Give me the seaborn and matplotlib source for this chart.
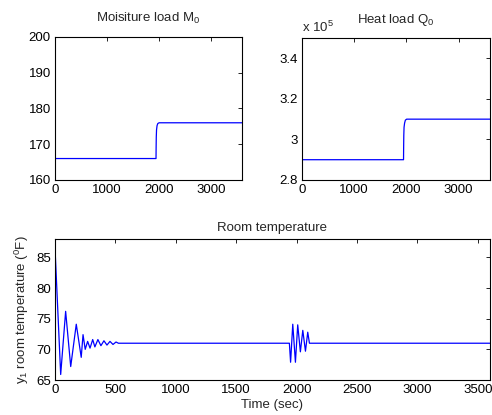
import matplotlib
matplotlib.use("Agg")
import matplotlib.pyplot as plt
import seaborn as sns
import pandas as pd
from matplotlib.ticker import FuncFormatter

sns.set_style("white")
plt.rcParams['font.family'] = ['Liberation Sans', 'DejaVu Sans']
plt.rcParams['mathtext.fontset'] = 'custom'
plt.rcParams['mathtext.rm'] = 'Liberation Sans'
plt.rcParams['mathtext.it'] = 'Liberation Sans'

FS = 9.5

# moisture load M0
m_time = [0, 1945, 1947, 1950, 1955, 1965, 1980, 2005, 3600]
m_load = [166, 166, 169, 172, 174, 175.2, 175.8, 176, 176]

# heat load Q0
q_time = [0, 1945, 1947, 1950, 1955, 1965, 1980, 2005, 3600]
q_load = [2.9e5, 2.9e5, 2.96e5, 3.02e5, 3.06e5, 3.08e5, 3.095e5, 3.1e5, 3.1e5]

# room temperature y1: extrema
t_time = [0, 47, 88, 130, 176, 217, 232, 250, 270, 290, 312, 330, 355, 380,
          405, 430, 455, 480, 505, 525,
          1940, 1950, 1968, 1990, 2009, 2031, 2051, 2073, 2092, 2106, 3600]
t_temp = [86.5, 65.9, 76.2, 67.2, 74.1, 68.7, 72.4, 70.0, 71.3, 70.2, 71.6, 70.4, 71.6, 70.6,
          71.4, 70.7, 71.3, 70.8, 71.2, 71.0,
          71.0, 67.9, 74.1, 67.9, 74.0, 69.6, 73.1, 69.7, 72.8, 71.0, 71.0]

m_df = pd.DataFrame({"t": m_time, "v": m_load})
q_df = pd.DataFrame({"t": q_time, "v": q_load})
r_df = pd.DataFrame({"t": t_time, "v": t_temp})

fig = plt.figure(figsize=(4.92, 4.15), dpi=100)
ax1 = fig.add_axes([0.1118, 0.5663, 0.380, 0.3446])
ax2 = fig.add_axes([0.6138, 0.5663, 0.382, 0.3420])
ax3 = fig.add_axes([0.1118, 0.0843, 0.884, 0.3398])

line_kw = dict(color="#0000ff", linewidth=0.9, estimator=None, sort=False)
sns.lineplot(data=m_df, x="t", y="v", ax=ax1, **line_kw)
sns.lineplot(data=q_df, x="t", y="v", ax=ax2, **line_kw)
sns.lineplot(data=r_df, x="t", y="v", ax=ax3, **line_kw)

ax1.set_xlim(0, 3600)
ax1.set_ylim(160, 200)
ax1.set_xticks([0, 1000, 2000, 3000])
ax1.set_yticks([160, 170, 180, 190, 200])
ax1.set_title("Moisiture load M$_0$", fontsize=FS, pad=11)

ax2.set_xlim(0, 3600)
ax2.set_ylim(2.8e5, 3.5e5)
ax2.set_xticks([0, 1000, 2000, 3000])
ax2.set_yticks([2.8e5, 3.0e5, 3.2e5, 3.4e5])
ax2.yaxis.set_major_formatter(FuncFormatter(lambda v, p: f"{v / 1e5:g}"))
ax2.set_title("Heat load Q$_0$", fontsize=FS, pad=11)
ax2.text(0.0, 1.02, "x 10$^5$", transform=ax2.transAxes, fontsize=FS,
         ha="left", va="bottom")

ax3.set_xlim(0, 3600)
ax3.set_ylim(65, 88)
ax3.set_xticks(range(0, 3600, 500))
ax3.set_yticks([65, 70, 75, 80, 85])
ax3.set_title("Room temperature", fontsize=FS, pad=6)
ax3.set_xlabel("Time (sec)", fontsize=FS, labelpad=2)
ax3.set_ylabel("y$_1$ room temperature ($^0$F)", fontsize=FS, labelpad=4)

for ax in (ax1, ax2, ax3):
    if ax is not ax3:
        ax.set_xlabel("")
        ax.set_ylabel("")
    ax.tick_params(direction="in", top=True, right=True, labelsize=FS,
                   length=3, width=0.6, pad=3, colors="black")
    for s in ax.spines.values():
        s.set_visible(True)
        s.set_color("black")
        s.set_linewidth(0.8)

fig.savefig("out.png", dpi=100, facecolor="white")
